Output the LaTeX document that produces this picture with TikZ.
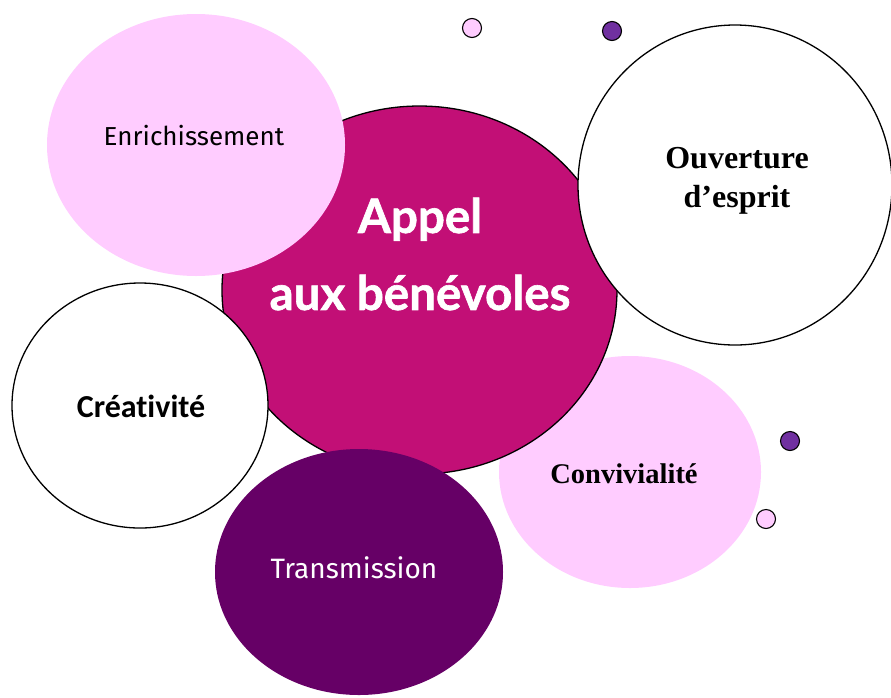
\documentclass[tikz,border=0pt]{standalone}
\usepackage{fontspec}
\usetikzlibrary{shapes.geometric}
\newfontfamily\comicf{Fira Sans}
\newfontfamily\appelf{Lato}[BoldFeatures={FakeBold=1.3}]
\newfontfamily\seriff{Liberation Serif}
\newfontfamily\calif{Carlito}[Ligatures=NoCommon]
\definecolor{lpink}{HTML}{FFCCFF}
\definecolor{magen}{HTML}{C20F76}
\definecolor{dpurp}{HTML}{660066}
\definecolor{spurp}{HTML}{7030A0}
\tikzset{
  blob/.style={ellipse, inner sep=0pt},
  lined/.style={draw=black, line width=1.3pt},
  dot/.style={circle, inner sep=0pt, minimum size=19pt, draw=black, line width=1.1pt},
  lbl/.style={inner sep=0pt, align=center}
}
\begin{document}
\begin{tikzpicture}[x=1pt,y=-1pt]
\useasboundingbox (0,0) rectangle (891,697);
\node[blob, fill=lpink, minimum width=262pt, minimum height=232pt] (conv) at (630,472) {};
\node[blob, lined, fill=magen, minimum width=395pt, minimum height=368pt] (appel) at (419.5,290) {};
\node[blob, fill=lpink, minimum width=298pt, minimum height=262pt] (enr) at (196,145) {};
\node[blob, lined, fill=white, minimum width=314pt, minimum height=320pt] (ouv) at (735,185) {};
\node[blob, lined, fill=white, minimum width=256pt, minimum height=245pt] (crea) at (140,405.5) {};
\node[blob, fill=dpurp, minimum width=288pt, minimum height=246pt] (trans) at (359,572) {};
% small dots
\node[dot, fill=lpink] (d1) at (472,28) {};
\node[dot, fill=spurp] (d2) at (612,31) {};
\node[dot, fill=spurp] (d3) at (790,441) {};
\node[dot, fill=lpink] (d4) at (766,519) {};
% labels
\node[lbl, font=\comicf\fontsize{26}{30}\selectfont] (tenr) at (194,136) {Enrichissement};
\node[lbl, text=white, font=\appelf\bfseries\fontsize{47.5}{77}\selectfont] (tappel) at (420,254) {Appel\\aux bénévoles};
\node[lbl, font=\seriff\bfseries\fontsize{32}{39}\selectfont] (touv) at (737,181) {Ouverture\\d’esprit};
\node[lbl, font=\calif\bfseries\fontsize{32}{36}\selectfont] (tcrea) at (141,406) {Créativité};
\node[lbl, font=\seriff\bfseries\fontsize{28.5}{32}\selectfont] (tconv) at (624,474) {Convivialité};
\node[lbl, text=white, font=\comicf\fontsize{28}{32}\selectfont] (ttrans) at (354,568) {Transmission};
\end{tikzpicture}
\end{document}
